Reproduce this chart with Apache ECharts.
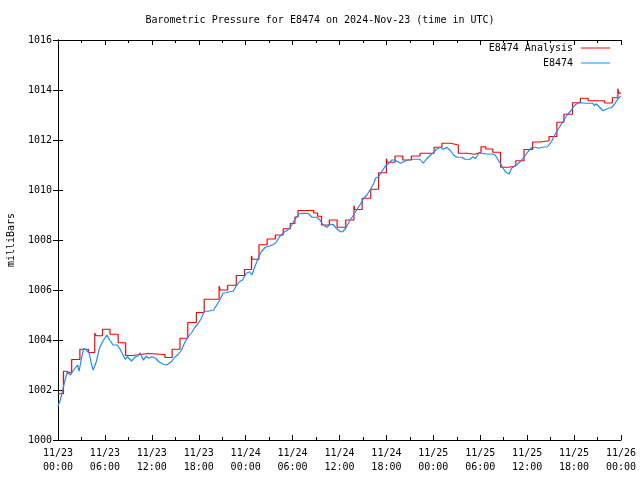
<!DOCTYPE html>
<html>
<head>
<meta charset="utf-8">
<script src="https://cdn.jsdelivr.net/npm/echarts@6/dist/echarts.min.js"></script>
<style>
html,body{margin:0;padding:0;background:#fff;}
#chart{width:640px;height:480px;}
</style>
</head>
<body>
<div id="chart"></div>
<script>
// Hours since 2024-11-23 00:00 UTC, pressure in mb
const analysisSeries = [
  [0, 1001.85],[0.7, 1002.75],[1.0, 1002.68],[1.75, 1003.22],[2.8, 1003.63],[3.9, 1003.5],
  [4.7, 1004.27],[4.9, 1004.17],[5.7, 1004.43],[6.65, 1004.23],[7.7, 1003.89],[8.65, 1003.38],
  [9.5, 1003.46],[11.55, 1003.42],[13.68, 1003.3],[14.6, 1003.63],[15.6, 1004.07],[16.6, 1004.7],
  [17.7, 1005.1],[18.7, 1005.63],[20.6, 1006.15],[20.75, 1006.0],[21.7, 1006.19],[22.8, 1006.58],
  [23.85, 1006.82],[24.75, 1007.36],[24.85, 1007.23],[25.7, 1007.81],[26.75, 1008.04],[27.8, 1008.2],
  [28.8, 1008.45],[29.7, 1008.66],[30.3, 1008.92],[30.7, 1009.18],[32.7, 1009.08],[33.2, 1008.95],
  [33.7, 1008.6],[34.7, 1008.8],[35.7, 1008.51],[36.8, 1008.8],[37.85, 1009.38],[37.95, 1009.22],
  [38.9, 1009.67],[40.0, 1010.03],[41.0, 1010.69],[42.0, 1011.25],[42.1, 1011.11],[43.1, 1011.36],
  [44.1, 1011.2],[45.2, 1011.36],[46.3, 1011.47],[48.1, 1011.71],[49.1, 1011.87],[50.2, 1011.8],
  [51.2, 1011.47],[52.3, 1011.43],[53.3, 1011.51],[54.1, 1011.73],[54.7, 1011.64],[55.6, 1011.51],
  [56.6, 1010.91],[57.6, 1010.96],[58.55, 1011.17],[59.6, 1011.62],[60.7, 1011.92],[61.7, 1011.97],
  [62.8, 1012.14],[63.8, 1012.71],[64.7, 1013.03],[65.8, 1013.49],[66.8, 1013.67],[67.8, 1013.57],
  [69.9, 1013.48],[70.9, 1013.69],[71.6, 1014.05],[71.75, 1013.87],[72, 1013.87]
];
const observedSeries = [
  [0, 1001.36],[0.3, 1001.6],[0.6, 1002.0],[0.9, 1002.4],[1.2, 1002.73],[1.6, 1002.6],[2.0, 1002.8],
  [2.5, 1003.0],[2.7, 1002.75],[3.0, 1003.27],[3.3, 1003.67],[3.6, 1003.6],[4.0, 1003.47],[4.3, 1003.0],
  [4.5, 1002.8],[4.9, 1003.13],[5.3, 1003.67],[5.7, 1003.93],[6.25, 1004.2],[6.6, 1004.0],[7.05, 1003.8],
  [7.6, 1003.8],[8.0, 1003.6],[8.6, 1003.23],[8.9, 1003.33],[9.4, 1003.16],[9.9, 1003.33],[10.2, 1003.36],
  [10.5, 1003.49],[10.9, 1003.2],[11.3, 1003.35],[11.6, 1003.27],[12.0, 1003.33],[12.5, 1003.27],
  [12.9, 1003.13],[13.4, 1003.04],[13.9, 1003.0],[14.5, 1003.13],[14.9, 1003.31],[15.3, 1003.4],
  [15.8, 1003.6],[16.2, 1003.89],[16.6, 1004.1],[17.1, 1004.3],[17.5, 1004.5],[17.9, 1004.65],
  [18.3, 1004.85],[18.7, 1005.15],[19.2, 1005.15],[19.9, 1005.2],[20.3, 1005.4],[20.7, 1005.6],
  [21.1, 1005.87],[21.5, 1005.89],[21.9, 1005.93],[22.4, 1005.95],[22.8, 1006.16],[23.2, 1006.33],
  [23.6, 1006.4],[24.1, 1006.67],[24.5, 1006.73],[24.8, 1006.6],[25.1, 1006.87],[25.6, 1007.27],
  [26.0, 1007.53],[26.5, 1007.71],[27.1, 1007.76],[27.8, 1007.87],[28.4, 1008.16],[29.0, 1008.33],
  [29.5, 1008.43],[29.9, 1008.6],[30.3, 1008.83],[30.8, 1009.04],[31.4, 1009.07],[31.6, 1009.11],
  [32.0, 1009.06],[32.5, 1008.91],[33.1, 1008.91],[33.5, 1008.8],[33.9, 1008.6],[34.4, 1008.51],
  [34.8, 1008.63],[35.2, 1008.62],[35.6, 1008.47],[36.1, 1008.33],[36.4, 1008.33],[36.8, 1008.47],
  [37.3, 1008.77],[37.8, 1009.0],[38.2, 1009.2],[38.6, 1009.4],[39.1, 1009.67],[39.5, 1009.8],
  [39.9, 1010.0],[40.4, 1010.27],[40.6, 1010.47],[41.0, 1010.53],[41.4, 1010.73],[41.8, 1010.93],
  [42.3, 1011.07],[42.7, 1011.2],[43.1, 1011.2],[43.3, 1011.13],[43.8, 1011.07],[44.2, 1011.13],
  [44.7, 1011.2],[45.5, 1011.23],[46.3, 1011.23],[46.7, 1011.07],[47.1, 1011.23],[47.5, 1011.36],
  [48.0, 1011.49],[48.4, 1011.63],[48.9, 1011.71],[49.3, 1011.63],[49.7, 1011.71],[50.2, 1011.57],
  [50.6, 1011.4],[51.0, 1011.31],[51.7, 1011.31],[52.0, 1011.23],[52.7, 1011.23],[53.1, 1011.33],
  [53.4, 1011.25],[53.8, 1011.47],[54.2, 1011.47],[54.8, 1011.44],[55.5, 1011.44],[55.9, 1011.4],
  [56.3, 1011.2],[56.7, 1011.0],[57.2, 1010.73],[57.7, 1010.64],[58.0, 1010.87],[58.3, 1010.93],
  [58.8, 1011.04],[59.3, 1011.2],[59.7, 1011.36],[60.1, 1011.53],[60.6, 1011.71],[61.0, 1011.71],
  [61.5, 1011.67],[61.9, 1011.71],[62.6, 1011.73],[63.1, 1011.93],[63.4, 1012.13],[63.9, 1012.4],
  [64.3, 1012.6],[64.7, 1012.8],[65.1, 1013.0],[65.6, 1013.17],[66.0, 1013.36],[66.4, 1013.47],
  [66.9, 1013.49],[67.5, 1013.47],[68.4, 1013.47],[68.6, 1013.36],[68.8, 1013.45],[69.2, 1013.33],
  [69.7, 1013.17],[70.0, 1013.22],[70.4, 1013.27],[70.8, 1013.3],[71.2, 1013.44],[71.5, 1013.6],
  [71.8, 1013.71],[72, 1013.75]
];
const xTickLabels = ['11/23\n00:00','11/23\n06:00','11/23\n12:00','11/23\n18:00',
  '11/24\n00:00','11/24\n06:00','11/24\n12:00','11/24\n18:00',
  '11/25\n00:00','11/25\n06:00','11/25\n12:00','11/25\n18:00','11/26\n00:00'];
const seriesNames = ['E8474 Analysis', 'E8474'];
const titleText = 'Barometric Pressure for E8474 on 2024-Nov-23 (time in UTC)';
const yAxisName = 'milliBars';

const FONT = 'DejaVu Sans Mono';
const RED = '#ff0000';
const BLUE = '#1a8cff';
const chart = echarts.init(document.getElementById('chart'), null, {renderer: 'canvas'});
const baseX = {
  type: 'value', min: 0, max: 72, interval: 6,
  axisLine: {show: true, lineStyle: {color: '#000', width: 1}},
  axisTick: {show: true, inside: true, length: 5, lineStyle: {color: '#000'}},
  minorTick: {show: true, splitNumber: 2, length: 3, lineStyle: {color: '#000'}},
  splitLine: {show: false}
};
const baseY = {
  type: 'value', min: 1000, max: 1016, interval: 2,
  axisLine: {show: true, lineStyle: {color: '#000', width: 1}},
  axisTick: {show: true, inside: true, length: 5, lineStyle: {color: '#000'}},
  splitLine: {show: false}
};
const legendCommon = {
  right: 30, padding: 0, align: 'right', icon: 'rect', itemWidth: 29, itemHeight: 1, selectedMode: false,
  textStyle: {fontFamily: FONT, fontSize: 10, color: '#000', padding: [0, 3, 0, 0]}
};
chart.setOption({
  animation: false,
  backgroundColor: '#fff',
  title: {
    text: titleText, left: 'center', top: 10,
    textStyle: {fontFamily: FONT, fontSize: 10, fontWeight: 'normal', color: '#000'}
  },
  legend: [
    Object.assign({data: [seriesNames[0]], top: 43}, legendCommon),
    Object.assign({data: [seriesNames[1]], top: 58}, legendCommon)
  ],
  grid: {left: 58, right: 19, top: 40, bottom: 40, containLabel: false, outerBoundsMode: 'none'},
  xAxis: [
    Object.assign({}, baseX, {position: 'bottom',
      axisLabel: {show: true, fontFamily: FONT, fontSize: 10, color: '#000', margin: 6, lineHeight: 14,
        formatter: v => xTickLabels[Math.round(v / 6)]}}),
    Object.assign({}, baseX, {position: 'top', axisLabel: {show: false}})
  ],
  yAxis: [
    Object.assign({}, baseY, {position: 'left', name: yAxisName, nameLocation: 'middle', nameGap: 42,
      nameRotate: 90, nameTextStyle: {fontFamily: FONT, fontSize: 10, color: '#000'},
      axisLabel: {show: true, fontFamily: FONT, fontSize: 10, color: '#000', margin: 6,
        formatter: v => String(v)}}),
    Object.assign({}, baseY, {position: 'right', axisLabel: {show: false}})
  ],
  series: [
    {name: seriesNames[0], type: 'line', data: analysisSeries, step: 'end', symbol: 'none',
     lineStyle: {color: RED, width: 1.2}, itemStyle: {color: RED}},
    {name: seriesNames[1], type: 'line', data: observedSeries, symbol: 'none',
     lineStyle: {color: BLUE, width: 1.2}, itemStyle: {color: BLUE}}
  ]
});
</script>
</body>
</html>
